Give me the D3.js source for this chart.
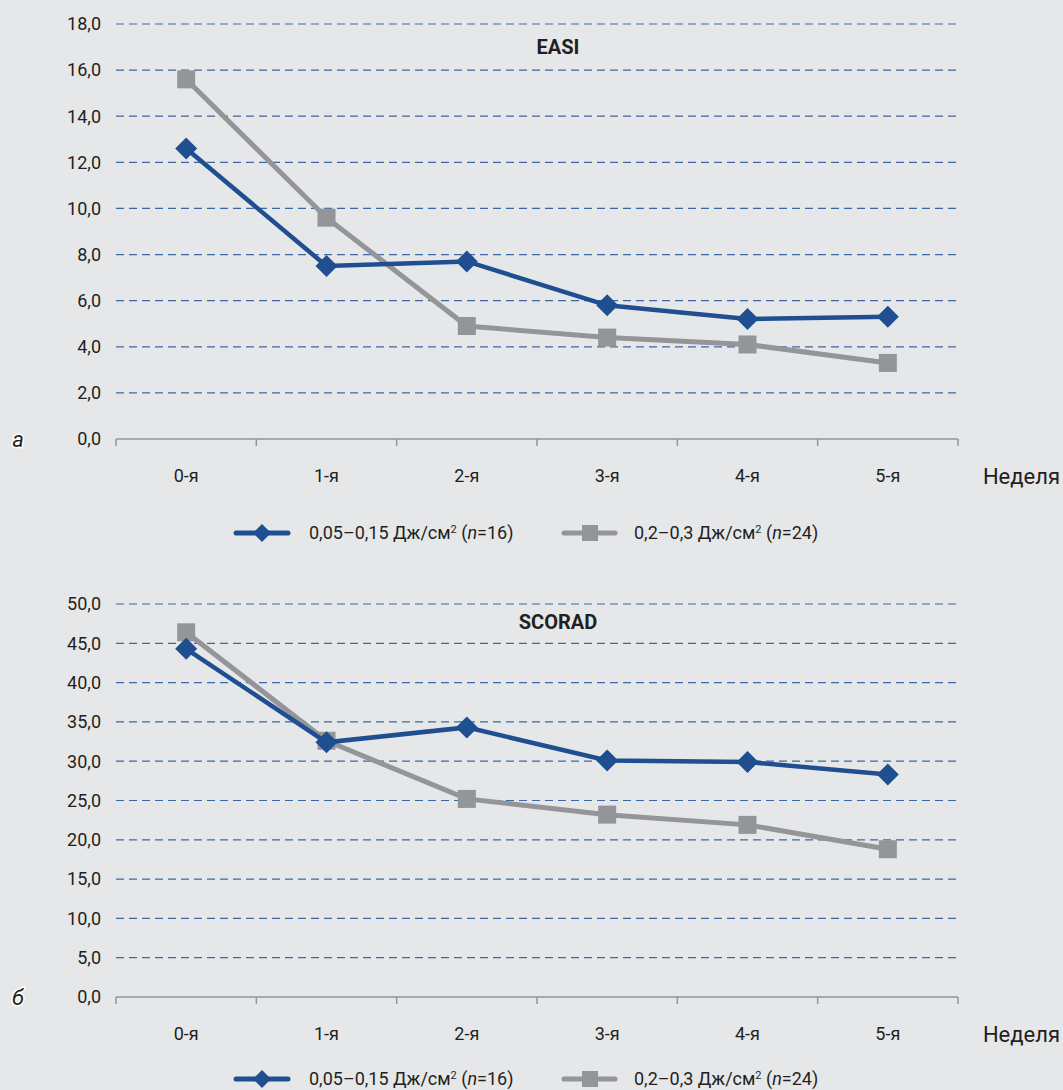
<!DOCTYPE html>
<html>
<head>
<meta charset="utf-8">
<script src="https://cdn.jsdelivr.net/npm/d3@7"></script>
<style>
  body { margin: 0; background: #e6e7e9; }
  svg { display: block; font-family: "Roboto", "DejaVu Sans Condensed", sans-serif; }
</style>
</head>
<body>
<div id="chart"></div>
<script>
var weeks = ["0-я", "1-я", "2-я", "3-я", "4-я", "5-я"];
var seriesNames = ["0,05–0,15 Дж/см² (n=16)", "0,2–0,3 Дж/см² (n=24)"];

var easiLow = [12.6, 7.5, 7.7, 5.8, 5.2, 5.3];
var easiHigh = [15.6, 9.6, 4.9, 4.4, 4.1, 3.3];
var easiTicks = [0, 2, 4, 6, 8, 10, 12, 14, 16, 18];

var scoradLow = [44.3, 32.4, 34.3, 30.1, 29.9, 28.3];
var scoradHigh = [46.4, 32.6, 25.2, 23.2, 21.9, 18.8];
var scoradTicks = [0, 5, 10, 15, 20, 25, 30, 35, 40, 45, 50];

var W = 1063, H = 1090,
  blue = "#1f4e91",
  grey = "#939598",
  gridColor = "#3d68a3",
  fmt = function(d) { return d3.format(".1f")(d).replace(".", ","); };

var svg = d3.select("#chart").append("svg")
  .attr("width", W)
  .attr("height", H);

function drawPanel(opts) {
  var x = d3.scaleBand().domain(weeks).range([116, 958]),
    y = d3.scaleLinear().domain([0, opts.max]).range([opts.bottom, opts.top]),
    g = svg.append("g");

  // dashed gridlines
  g.selectAll(".grid")
    .data(opts.ticks.filter(function(d) { return d > 0; }))
    .enter().append("line")
    .attr("x1", 116).attr("x2", 958)
    .attr("y1", function(d) { return y(d); })
    .attr("y2", function(d) { return y(d); })
    .attr("stroke", gridColor)
    .attr("stroke-width", 1.2)
    .attr("stroke-dasharray", "8,5");

  // y labels
  g.selectAll(".ylab")
    .data(opts.ticks)
    .enter().append("text")
    .attr("x", 101)
    .attr("y", function(d) { return y(d); })
    .attr("dy", "0.35em")
    .attr("text-anchor", "end")
    .attr("font-size", 18)
    .attr("fill", "#231f20")
    .text(fmt);

  // x axis: baseline plus separators between categories
  var ax = g.append("g").attr("transform", "translate(0," + opts.bottom + ")");
  ax.append("line").attr("x1", 116).attr("x2", 958)
    .attr("stroke", "#939598").attr("stroke-width", 1.5);
  ax.selectAll(".sep")
    .data(d3.range(weeks.length + 1))
    .enter().append("line")
    .attr("x1", function(i) { return 116 + i * x.bandwidth(); })
    .attr("x2", function(i) { return 116 + i * x.bandwidth(); })
    .attr("y1", 0).attr("y2", 7)
    .attr("stroke", "#939598").attr("stroke-width", 1.5);
  ax.selectAll(".xlab")
    .data(weeks)
    .enter().append("text")
    .attr("x", function(d) { return x(d) + x.bandwidth() / 2; })
    .attr("y", 37)
    .attr("dy", "0.35em")
    .attr("text-anchor", "middle")
    .attr("font-size", 18)
    .attr("fill", "#231f20")
    .text(function(d) { return d; });
  ax.append("text")
    .attr("x", 1060).attr("y", 37)
    .attr("dy", "0.35em")
    .attr("text-anchor", "end")
    .attr("font-size", 22)
    .attr("fill", "#231f20")
    .text("Неделя");

  // panel letter
  g.append("text")
    .attr("x", 18).attr("y", opts.bottom)
    .attr("dy", "0.35em")
    .attr("text-anchor", "middle")
    .attr("font-size", 22)
    .attr("font-style", "italic")
    .attr("fill", "#231f20")
    .attr("stroke", "#fff").attr("stroke-width", 3)
    .attr("paint-order", "stroke")
    .text(opts.letter);

  // title
  g.append("text")
    .attr("x", 558).attr("y", opts.titleY)
    .attr("dy", "0.35em")
    .attr("text-anchor", "middle")
    .attr("font-size", 20)
    .attr("font-weight", "bold")
    .attr("fill", "#231f20")
    .text(opts.title);

  var line = d3.line()
    .x(function(d, i) { return x(weeks[i]) + x.bandwidth() / 2; })
    .y(function(d) { return y(d); });

  // grey series (behind)
  g.append("path").datum(opts.high)
    .attr("d", line).attr("fill", "none")
    .attr("stroke", grey).attr("stroke-width", 5);
  g.selectAll(".sq").data(opts.high).enter().append("rect")
    .attr("x", function(d, i) { return x(weeks[i]) + x.bandwidth() / 2 - 9; })
    .attr("y", function(d) { return y(d) - 9; })
    .attr("width", 18).attr("height", 18)
    .attr("fill", grey);

  // blue series
  g.append("path").datum(opts.low)
    .attr("d", line).attr("fill", "none")
    .attr("stroke", blue).attr("stroke-width", 4.5);
  g.selectAll(".dm").data(opts.low).enter().append("path")
    .attr("d", "M0,-11L11,0L0,11L-11,0Z")
    .attr("transform", function(d, i) {
      return "translate(" + (x(weeks[i]) + x.bandwidth() / 2) + "," + y(d) + ")";
    })
    .attr("fill", blue);

  // legend
  var lg = g.append("g").attr("transform", "translate(0," + opts.legendY + ")");
  lg.append("line").attr("x1", 236).attr("x2", 288)
    .attr("stroke", blue).attr("stroke-width", 5).attr("stroke-linecap", "round");
  lg.append("path").attr("d", "M0,-9L9,0L0,9L-9,0Z")
    .attr("transform", "translate(262,0)").attr("fill", blue);
  lg.append("line").attr("x1", 564).attr("x2", 615)
    .attr("stroke", grey).attr("stroke-width", 5).attr("stroke-linecap", "round");
  lg.append("rect").attr("x", 582).attr("y", -8).attr("width", 16).attr("height", 16)
    .attr("fill", grey);

  [[309, seriesNames[0]], [634, seriesNames[1]]].forEach(function(s) {
    var parts = s[1].match(/^(.*?)²(.*?)n(.*)$/),
      t = lg.append("text")
        .attr("x", s[0]).attr("dy", "0.35em")
        .attr("font-size", 18).attr("fill", "#231f20");
    t.append("tspan").text(parts[1]);
    t.append("tspan").attr("font-size", 11).attr("dy", -6).text("2");
    t.append("tspan").attr("dy", 6).text(parts[2]);
    t.append("tspan").attr("font-style", "italic").text("n");
    t.append("tspan").text(parts[3]);
  });
}

drawPanel({
  max: 18, ticks: easiTicks, top: 24, bottom: 439,
  low: easiLow, high: easiHigh, title: "EASI", titleY: 47,
  letter: "а", legendY: 533
});

drawPanel({
  max: 50, ticks: scoradTicks, top: 604, bottom: 997,
  low: scoradLow, high: scoradHigh, title: "SCORAD", titleY: 622,
  letter: "б", legendY: 1079
});
</script>
</body>
</html>
